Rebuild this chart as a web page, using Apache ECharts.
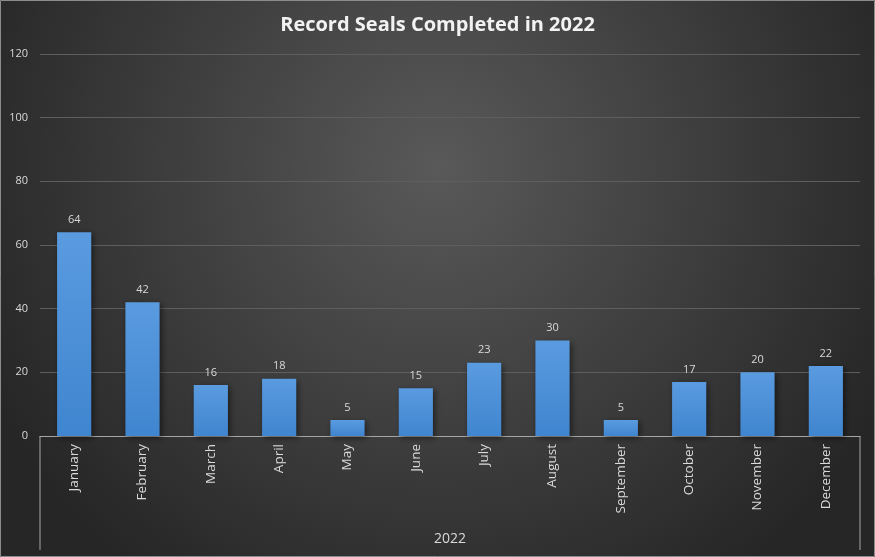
<!DOCTYPE html>
<html>
<head>
<meta charset="utf-8">
<script src="https://cdn.jsdelivr.net/npm/echarts@6/dist/echarts.min.js"></script>
<style>
  html, body { margin: 0; padding: 0; background: #fff; }
  #chart { width: 875px; height: 557px; }
</style>
</head>
<body>
<div id="chart"></div>
<script>
const months = ['January', 'February', 'March', 'April', 'May', 'June', 'July', 'August', 'September', 'October', 'November', 'December'];
const seals = [64, 42, 16, 18, 5, 15, 23, 30, 5, 17, 20, 22];
const groupLabel = '2022';

const chart = echarts.init(document.getElementById('chart'));
const gridLeft = 40, gridRight = 15, gridTop = 54, gridBottom = 121;
const W = 875, H = 557;

chart.setOption({
    backgroundColor: new echarts.graphic.RadialGradient(0.5, 0.3, 0.9, [
        { offset: 0, color: '#595959' },
        { offset: 1, color: '#262626' }
    ]),
    title: {
        text: 'Record Seals Completed in 2022',
        left: 'center',
        top: 10,
        textStyle: { color: '#f2f2f2', fontSize: 20, fontWeight: 'bold', fontFamily: 'Open Sans' }
    },
    grid: { left: gridLeft, right: gridRight, top: gridTop, bottom: gridBottom },
    xAxis: {
        type: 'category',
        data: months,
        axisLine: { lineStyle: { color: '#a6a6a6' } },
        axisTick: { show: false },
        axisLabel: {
            rotate: 90, color: '#d9d9d9', fontSize: 13.5, margin: 8,
            fontFamily: 'Open Sans'
        }
    },
    yAxis: {
        type: 'value',
        min: 0, max: 120, interval: 20,
        axisLine: { show: false },
        axisTick: { show: false },
        axisLabel: { color: '#d9d9d9', fontSize: 11, margin: 12, fontFamily: 'Open Sans' },
        splitLine: { lineStyle: { color: '#5e5e5e' } }
    },
    series: [{
        type: 'bar',
        data: seals,
        barWidth: '50%',
        itemStyle: {
            color: new echarts.graphic.LinearGradient(0, 0, 0, 1, [
                { offset: 0, color: '#5a9be0' },
                { offset: 1, color: '#3f85cf' }
            ]),
            shadowColor: 'rgba(0,0,0,0.5)', shadowBlur: 6, shadowOffsetX: 2, shadowOffsetY: 2
        },
        label: { show: true, position: 'top', color: '#d9d9d9', fontSize: 11, distance: 7, fontFamily: 'Open Sans' }
    }],
    graphic: [
        { type: 'rect', shape: { x: 0.5, y: 0.5, width: W - 1, height: H - 1 }, style: { fill: 'none', stroke: '#8c8c8c', lineWidth: 1 } },
        { type: 'line', shape: { x1: gridLeft, y1: H - gridBottom, x2: gridLeft, y2: 550 }, style: { stroke: '#a6a6a6', lineWidth: 1 } },
        { type: 'line', shape: { x1: W - gridRight, y1: H - gridBottom, x2: W - gridRight, y2: 550 }, style: { stroke: '#a6a6a6', lineWidth: 1 } },
        { type: 'text', left: (gridLeft + W - gridRight) / 2 - 16, top: 532, style: { text: groupLabel, fill: '#d9d9d9', fontSize: 14, fontFamily: 'Open Sans' } }
    ]
});
</script>
</body>
</html>
